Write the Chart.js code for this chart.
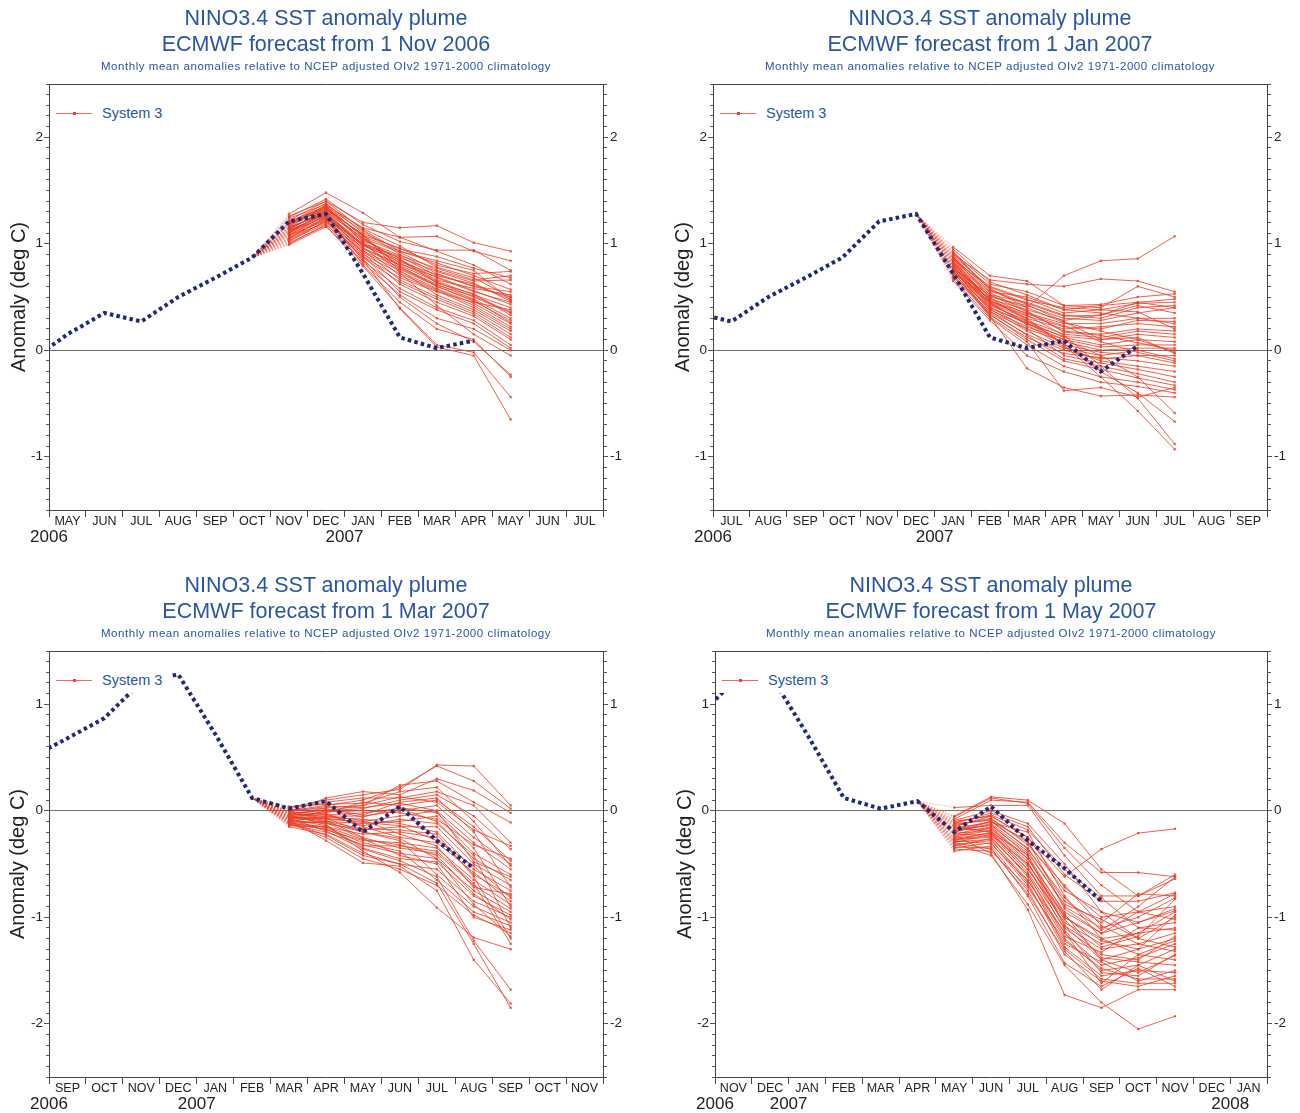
<!DOCTYPE html>
<html>
<head>
<meta charset="utf-8">
<script src="https://cdn.jsdelivr.net/npm/chart.js@4.4.1/dist/chart.umd.min.js"></script>
<style>
  html, body { margin: 0; padding: 0; background: #fff; }
  body { width: 1300px; height: 1113px; position: relative; overflow: hidden;
         font-family: "Liberation Sans", Arial, Helvetica, sans-serif; }
  .panel { position: absolute; }
  .panel canvas { position: absolute; left: 0; top: 0; }
  .ttl { position: absolute; white-space: nowrap; color: #2a55a6; transform: translateX(-50%); }
  .t1 { font-size: 21.5px; line-height: 26px; }
  .t3 { font-size: 11.5px; line-height: 14px; letter-spacing: 0.55px; }
  .lg { position: absolute; background: #fff; }
  .lg .ln { position: absolute; left: 6px; top: 28px; width: 36px; height: 0; border-top: 1px solid rgba(238,66,42,0.8); }
  .lg .mk { position: absolute; left: 23px; top: 27px; width: 3px; height: 3px; background: rgb(238,66,42); }
  .lg .tx { position: absolute; left: 52px; top: 19px; font-size: 14.5px; line-height: 18px; color: #2a55a6; white-space: nowrap; }
</style>
</head>
<body>
<script>
// ---------------- data ----------------
const monthNames = ['JAN','FEB','MAR','APR','MAY','JUN','JUL','AUG','SEP','OCT','NOV','DEC'];
const observedFirst = { year: 2006, month: 3 };          // April 2006 (0-based month)
// Observed NINO3.4 anomaly, Apr 2006 ... Sep 2007
const observed = [-0.10, 0.15, 0.35, 0.27, 0.50, 0.68, 0.87, 1.21, 1.28, 0.72, 0.12, 0.02, 0.09, -0.20, 0.04, -0.28, -0.54, -0.85];

const titleLine1 = 'NINO3.4 SST anomaly plume';
const subTitle = 'Monthly mean anomalies relative to NCEP adjusted OIv2 1971-2000 climatology';
const forecastTitles = ['ECMWF forecast from 1 Nov 2006', 'ECMWF forecast from 1 Jan 2007',
                        'ECMWF forecast from 1 Mar 2007', 'ECMWF forecast from 1 May 2007'];
const legendLabel = 'System 3';
const yAxisLabel = 'Anomaly (deg C)';

const axisStart = [1, 3, 5, 7];          // index in observed[] of first month on x axis
const forecastStart = [7, 9, 11, 13];    // index of first forecast month
const observedEnd = [12, 14, 16, 17];    // last observed month shown
const yRanges = [[-1.5, 2.5], [-1.5, 2.5], [-2.5, 1.5], [-2.5, 1.5]];

// ensemble members, 7 monthly values each
const plumeNov2006 = [
 [1.28,1.48,1.29,1.06,0.93,0.80,0.62],[1.22,1.40,1.20,1.15,1.17,1.01,0.93],[1.18,1.36,1.15,1.06,1.07,0.93,0.84],
 [1.25,1.42,1.18,1.02,0.94,0.94,0.75],[1.20,1.38,1.10,0.95,0.88,0.77,0.68],[1.13,1.33,1.08,0.96,0.80,0.72,0.74],
 [1.10,1.30,1.05,0.92,0.75,0.65,0.66],[1.16,1.35,1.12,0.90,0.72,0.60,0.50],[1.05,1.25,1.00,0.88,0.70,0.62,0.48],
 [1.12,1.28,0.98,0.85,0.68,0.55,0.45],[1.20,1.32,1.05,0.84,0.66,0.58,0.52],[1.08,1.27,1.02,0.82,0.65,0.52,0.40],
 [1.15,1.30,0.95,0.80,0.64,0.50,0.35],[1.02,1.22,0.93,0.78,0.62,0.48,0.30],[1.10,1.26,1.00,0.76,0.60,0.46,0.28],
 [1.18,1.34,1.08,0.74,0.58,0.44,0.25],[1.06,1.20,0.90,0.72,0.57,0.42,0.22],[1.14,1.31,0.97,0.70,0.56,0.40,0.20],
 [1.00,1.18,0.88,0.68,0.55,0.45,0.38],[1.12,1.29,0.99,0.87,0.74,0.63,0.46],[1.24,1.37,1.14,0.98,0.78,0.68,0.50],
 [1.09,1.24,0.96,0.81,0.69,0.56,0.43],[1.17,1.33,1.04,0.86,0.63,0.53,0.33],[1.04,1.21,0.92,0.75,0.52,0.38,0.18],
 [1.11,1.26,0.94,0.66,0.50,0.36,0.15],[1.19,1.36,1.06,0.79,0.60,0.47,0.26],[1.07,1.23,0.87,0.64,0.48,0.34,0.12],
 [1.15,1.29,0.91,0.62,0.45,0.32,0.10],[0.99,1.16,0.84,0.58,0.40,0.28,0.05],[1.13,1.27,0.89,0.55,0.38,0.25,0.02],
 [1.03,1.19,0.82,0.52,0.30,0.20,0.00],[1.21,1.35,1.01,0.73,0.42,0.15,-0.05],[1.08,1.22,0.86,0.50,0.25,0.08,-0.23],
 [1.16,1.28,0.80,0.45,0.20,0.10,-0.25],[1.01,1.17,0.79,0.40,0.05,-0.02,-0.44],[1.12,1.25,0.85,0.39,0.03,-0.05,-0.65],
 [1.26,1.40,1.13,0.93,0.82,0.70,0.57],[1.10,1.31,1.03,0.89,0.77,0.66,0.70],[1.05,1.24,0.99,0.83,0.71,0.60,0.55],
 [1.19,1.34,1.07,0.93,0.84,0.75,0.47],[1.14,1.32,1.09,0.77,0.61,0.51,0.36]
];
const plumeJan2007 = [
 [0.86,0.58,0.40,0.70,0.84,0.86,1.07],[0.90,0.66,0.62,0.60,0.67,0.65,0.55],[0.97,0.70,0.65,0.42,0.43,0.50,0.53],
 [0.92,0.62,0.55,0.42,0.40,0.60,0.50],[0.88,0.55,0.50,0.38,0.42,0.45,0.48],[0.85,0.60,0.48,0.35,0.38,0.44,0.45],
 [0.83,0.52,0.45,0.33,0.30,0.40,0.42],[0.80,0.50,0.42,0.30,0.28,0.35,0.40],[0.78,0.48,0.38,0.28,0.33,0.42,0.35],
 [0.82,0.46,0.35,0.25,0.25,0.30,0.30],[0.76,0.45,0.32,0.22,0.20,0.28,0.27],[0.74,0.44,0.30,0.20,0.22,0.25,0.22],
 [0.87,0.52,0.36,0.18,0.15,0.20,0.18],[0.79,0.42,0.28,0.15,0.12,0.18,0.15],[0.72,0.40,0.25,0.13,0.10,0.15,0.12],
 [0.81,0.43,0.27,0.12,0.05,0.10,0.08],[0.75,0.38,0.22,0.10,0.03,0.05,0.05],[0.70,0.36,0.20,0.08,0.00,0.02,0.02],
 [0.84,0.47,0.30,0.05,-0.02,-0.05,-0.05],[0.77,0.39,0.18,0.02,-0.05,0.00,-0.08],[0.73,0.35,0.15,0.00,-0.08,-0.05,-0.12],
 [0.69,0.33,0.12,-0.03,-0.07,-0.10,-0.15],[0.86,0.45,0.24,0.03,-0.10,-0.15,-0.20],[0.80,0.41,0.20,-0.05,-0.12,-0.18,-0.25],
 [0.76,0.37,0.14,-0.08,-0.15,-0.22,-0.30],[0.71,0.34,0.10,-0.10,-0.18,-0.26,-0.33],[0.67,0.30,0.05,-0.15,-0.25,-0.30,-0.37],
 [0.65,0.28,-0.05,-0.20,-0.30,-0.34,-0.40],[0.78,0.32,-0.17,-0.35,-0.43,-0.42,-0.44],[0.74,0.31,0.08,-0.38,-0.35,-0.44,-0.35],
 [0.82,0.44,0.25,0.10,-0.05,-0.25,-0.59],[0.88,0.49,0.28,0.06,-0.20,-0.40,-0.67],[0.79,0.40,0.26,0.05,-0.25,-0.57,-0.93],
 [0.83,0.46,0.33,0.14,-0.15,-0.45,-0.88],[0.91,0.57,0.44,0.32,0.33,0.45,0.40],[0.95,0.64,0.52,0.38,0.35,0.30,0.25],
 [0.89,0.59,0.47,0.40,0.38,0.36,0.20],[0.77,0.51,0.40,0.26,0.18,0.10,-0.02],[0.72,0.49,0.34,0.23,0.08,-0.02,-0.10],
 [0.85,0.54,0.37,0.17,0.14,0.07,0.00],[0.93,0.56,0.43,0.27,0.10,0.12,-0.03]
];
const plumeMar2007 = [
 [0.03,0.10,0.15,0.20,0.43,0.42,0.05],[0.00,0.05,0.10,0.22,0.42,0.28,0.02],[-0.02,0.12,0.18,0.15,0.30,0.19,-0.02],
 [-0.05,0.03,0.05,0.24,0.28,0.08,-0.11],[0.02,0.08,0.12,0.12,0.18,0.05,-0.30],[-0.08,0.00,0.02,0.10,0.15,-0.05,-0.36],
 [-0.04,-0.02,0.08,0.05,0.10,-0.15,-0.47],[-0.10,-0.05,-0.05,0.00,0.05,-0.25,-0.50],[-0.06,-0.08,-0.10,-0.05,0.00,-0.30,-0.55],
 [-0.12,-0.10,-0.12,-0.10,-0.05,-0.40,-0.60],[-0.03,-0.04,-0.02,0.02,-0.10,-0.45,-0.65],[-0.09,-0.12,-0.18,-0.15,-0.15,-0.50,-0.70],
 [-0.07,-0.06,-0.08,-0.12,-0.20,-0.55,-0.75],[-0.14,-0.15,-0.22,-0.20,-0.25,-0.60,-0.80],[-0.01,-0.03,-0.15,-0.25,-0.30,-0.58,-0.85],
 [-0.11,-0.18,-0.28,-0.30,-0.35,-0.65,-0.88],[-0.05,-0.09,-0.25,-0.35,-0.40,-0.70,-0.92],[-0.13,-0.20,-0.32,-0.40,-0.45,-0.75,-0.95],
 [-0.08,-0.14,-0.35,-0.45,-0.48,-0.80,-0.98],[-0.15,-0.22,-0.40,-0.50,-0.55,-0.85,-1.00],[-0.02,-0.07,-0.20,-0.28,-0.60,-0.90,-1.05],
 [-0.10,-0.16,-0.30,-0.38,-0.65,-0.95,-1.08],[-0.06,-0.11,-0.26,-0.42,-0.50,-1.00,-1.12],[-0.12,-0.25,-0.45,-0.55,-0.70,-0.98,-1.15],
 [-0.04,-0.13,-0.38,-0.58,-0.91,-1.19,-1.30],[-0.09,-0.28,-0.49,-0.52,-0.75,-1.40,-1.81],[-0.07,-0.19,-0.36,-0.47,-0.62,-1.22,-1.68],
 [-0.11,-0.23,-0.42,-0.50,-0.68,-1.25,-1.85],[0.04,0.06,0.07,0.18,0.22,-0.10,-0.52],[0.01,0.02,-0.04,0.08,0.12,-0.20,-0.72],
 [-0.03,0.01,-0.06,0.03,-0.02,-0.35,-0.90],[-0.08,-0.03,-0.14,-0.08,-0.12,-0.42,-1.10],[-0.05,-0.10,-0.17,-0.18,-0.22,-0.62,-1.20],
 [-0.13,-0.17,-0.33,-0.33,-0.38,-0.68,-1.25],[-0.01,0.04,0.03,0.07,0.00,-0.48,-0.62],[-0.06,-0.01,0.00,-0.02,-0.08,-0.32,-0.45],
 [-0.09,-0.07,-0.11,-0.14,-0.28,-0.52,-0.82],[-0.02,0.00,0.05,0.13,0.08,-0.18,-0.33],[-0.12,-0.15,-0.27,-0.32,-0.42,-0.78,-1.02],
 [-0.04,-0.05,-0.09,-0.22,-0.33,-0.72,-0.78],[-0.10,-0.11,-0.20,-0.26,-0.45,-0.88,-1.18]
];
const plumeMay2007 = [
 [-0.10,-0.05,-0.25,-0.62,-0.36,-0.21,-0.17],[-0.05,0.13,0.10,-0.12,-0.55,-0.80,-0.60],[-0.08,0.10,0.08,-0.30,-0.58,-0.58,-0.62],
 [0.03,0.05,0.05,-0.42,-0.80,-0.80,-0.64],[-0.12,-0.02,-0.15,-0.60,-0.85,-0.85,-0.77],[-0.15,-0.05,-0.25,-0.72,-1.00,-0.95,-0.78],
 [-0.18,-0.10,-0.35,-0.85,-1.05,-0.78,-0.80],[-0.20,-0.12,-0.38,-0.90,-1.10,-1.00,-0.82],[-0.13,-0.08,-0.30,-0.75,-0.95,-1.05,-0.92],
 [-0.22,-0.15,-0.45,-0.95,-1.15,-1.05,-0.94],[-0.25,-0.18,-0.50,-1.00,-1.20,-1.15,-0.95],[-0.17,-0.14,-0.40,-0.88,-1.02,-1.20,-1.00],
 [-0.28,-0.20,-0.55,-1.05,-1.25,-1.15,-1.10],[-0.24,-0.16,-0.48,-1.08,-1.30,-1.25,-1.15],[-0.30,-0.22,-0.58,-1.10,-1.35,-1.40,-1.18],
 [-0.19,-0.13,-0.42,-0.97,-1.40,-1.30,-1.20],[-0.27,-0.25,-0.60,-1.15,-1.45,-1.38,-1.25],[-0.32,-0.28,-0.65,-1.20,-1.50,-1.45,-1.30],
 [-0.21,-0.19,-0.52,-1.12,-1.52,-1.55,-1.35],[-0.35,-0.30,-0.70,-1.25,-1.42,-1.60,-1.50],[-0.26,-0.24,-0.62,-1.28,-1.55,-1.50,-1.52],
 [-0.38,-0.33,-0.75,-1.35,-1.60,-1.65,-1.55],[-0.29,-0.27,-0.68,-1.30,-1.58,-1.62,-1.62],[-0.34,-0.35,-0.80,-1.43,-1.65,-1.48,-1.65],
 [-0.23,-0.40,-0.93,-1.73,-1.85,-1.68,-1.68],[-0.31,-0.42,-0.88,-1.45,-1.80,-2.05,-1.93],[-0.16,-0.11,-0.20,-0.80,-1.20,-1.35,-1.40],
 [-0.14,-0.07,-0.32,-0.70,-1.08,-1.25,-1.32],[-0.11,-0.04,-0.18,-0.55,-0.82,-1.10,-1.05],[-0.20,-0.10,-0.28,-0.92,-1.15,-0.95,-0.90],
 [-0.09,0.00,-0.12,-0.50,-0.95,-1.20,-1.28],[-0.33,-0.26,-0.60,-1.18,-1.33,-1.10,-1.12],[-0.26,-0.21,-0.55,-1.02,-1.38,-1.42,-1.45],
 [-0.18,-0.17,-0.45,-1.00,-1.22,-1.30,-0.98],[-0.36,-0.38,-0.72,-1.22,-1.48,-1.58,-1.58],[-0.06,0.12,0.07,-0.35,-0.70,-0.95,-1.02],
 [-0.22,-0.23,-0.50,-0.98,-1.28,-1.18,-0.83],[-0.28,-0.31,-0.66,-1.14,-1.62,-1.35,-1.22],[-0.12,-0.09,-0.36,-0.82,-1.12,-0.90,-0.62],
 [-0.15,-0.20,-0.42,-1.08,-1.40,-1.52,-1.36],[-0.30,-0.36,-0.78,-1.32,-1.68,-1.45,-1.60]
];
const plumes = [plumeNov2006, plumeJan2007, plumeMar2007, plumeMay2007];

// ---------------- layout (positions / sizes only) ----------------
const geom = [
  { left: 0,   top: 0,   w: 650, h: 567, aL: 49, aR: 47, aT: 84, aB: 57, ytPad: 7 },
  { left: 650, top: 0,   w: 650, h: 567, aL: 63, aR: 33, aT: 84, aB: 57, ytPad: 21 },
  { left: 0,   top: 567, w: 650, h: 546, aL: 49, aR: 47, aT: 84, aB: 36, ytPad: 6 },
  { left: 650, top: 567, w: 650, h: 546, aL: 65, aR: 33, aT: 84, aB: 36, ytPad: 23 }
];
const FAM = '"Liberation Sans", Arial, Helvetica, sans-serif';
const RED = 'rgba(236,62,38,0.82)';
const RED_LIGHT = 'rgba(236,62,38,0.45)';
const NAVY = '#1f2a7c';
const AXIS = '#444';
Chart.defaults.font.family = FAM;

const isInt = v => Math.abs(v - Math.round(v)) < 1e-6;

function calOf(k) { // observed index -> calendar
  const c = observedFirst.month + k;
  return { m: ((c % 12) + 12) % 12, y: observedFirst.year + Math.floor(c / 12) };
}

function buildPanel(i) {
  const g = geom[i];
  const first = axisStart[i], fc = forecastStart[i], oe = observedEnd[i];
  const [ymin, ymax] = yRanges[i];
  const toX = k => k - first + 0.5;

  const div = document.createElement('div');
  div.className = 'panel';
  Object.assign(div.style, { left: g.left + 'px', top: g.top + 'px', width: g.w + 'px', height: g.h + 'px' });
  document.body.appendChild(div);

  const cv = document.createElement('canvas');
  cv.width = g.w; cv.height = g.h;
  cv.style.width = g.w + 'px'; cv.style.height = g.h + 'px';
  div.appendChild(cv);

  const cx = g.aL + (g.w - g.aL - g.aR) / 2;
  const t = [[titleLine1, 't1', 5], [forecastTitles[i], 't1', 31], [subTitle, 't3', 59]];
  t.forEach(([txt, cls, top]) => {
    const d = document.createElement('div');
    d.className = 'ttl ' + cls; d.textContent = txt;
    d.style.left = cx + 'px'; d.style.top = top + 'px';
    div.appendChild(d);
  });

  const obsData = observed.slice(0, oe + 1).map((v, k) => ({ x: toX(k), y: v }));
  const memberSets = plumes[i].map(m => ({
    data: [{ x: toX(fc - 1), y: observed[fc - 1] }].concat(m.map((v, k) => ({ x: toX(fc + k), y: v }))),
    borderColor: RED, borderWidth: 1,
    pointRadius: ctx => ctx.dataIndex === 0 ? 0 : 1.6,
    pointStyle: 'rect', pointBackgroundColor: RED, pointBorderWidth: 0,
    segment: {
      borderDash: ctx => ctx.p0DataIndex === 0 ? [1.5, 1.5] : undefined,
      borderColor: ctx => ctx.p0DataIndex === 0 ? RED_LIGHT : undefined
    },
    order: 1, clip: 0
  }));
  const obsSet = {
    data: obsData, borderColor: NAVY, borderWidth: 4, borderDash: [3.5, 3.2],
    pointRadius: 0, order: 0, clip: 0
  };

  const yTicks = s => {
    const arr = [];
    for (let k = Math.round(ymin * 10); k <= Math.round(ymax * 10); k++) arr.push({ value: k / 10 });
    s.ticks = arr;
  };
  const yLabel = v => isInt(v) ? String(Math.round(v)) : '';

  new Chart(cv, {
    type: 'line',
    data: { datasets: [obsSet].concat(memberSets) },
    options: {
      responsive: false, maintainAspectRatio: false, animation: false, devicePixelRatio: 1,
      events: [],
      layout: { padding: { top: g.aT, left: 0, right: 0, bottom: 0 } },
      plugins: { legend: { display: false }, tooltip: { enabled: false }, title: { display: false } },
      scales: {
        x: {
          type: 'linear', position: 'bottom', min: 0, max: 15,
          afterBuildTicks: s => { const a = []; for (let k = 0; k <= 30; k++) a.push({ value: k / 2 }); s.ticks = a; },
          afterFit: s => { s.height = g.aB; },
          ticks: {
            autoSkip: false, maxRotation: 0, minRotation: 0, padding: -3, color: '#222',
            font: ctx => (ctx.tick && isInt(ctx.tick.value)) ? { size: 17, lineHeight: 0.9, family: FAM } : { size: 12.5, family: FAM },
            callback: v => {
              if (isInt(v)) {
                const r = Math.round(v);
                const c = calOf(first + r);
                return (r === 0 || c.m === 0) ? ['', String(c.y)] : '';
              }
              return monthNames[calOf(first + Math.floor(v)).m];
            }
          },
          grid: { drawOnChartArea: false, tickLength: 7,
                  tickColor: ctx => (ctx.tick && isInt(ctx.tick.value)) ? AXIS : 'rgba(0,0,0,0)' },
          border: { display: true, color: AXIS, width: 1 }
        },
        xTop: {
          type: 'linear', position: 'top', min: 0, max: 15,
          afterFit: s => { s.height = 0; },
          ticks: { display: false },
          grid: { drawOnChartArea: false, drawTicks: false },
          border: { display: true, color: AXIS, width: 1 }
        },
        y: {
          type: 'linear', position: 'left', min: ymin, max: ymax,
          afterBuildTicks: yTicks,
          afterFit: s => { s.width = g.aL; },
          ticks: { autoSkip: false, callback: yLabel, font: { size: 13.5, family: FAM }, color: '#222', padding: 1 },
          grid: {
            drawOnChartArea: true, tickLength: 5,
            color: ctx => (ctx.tick && Math.abs(ctx.tick.value) < 1e-9) ? '#707070' : 'rgba(0,0,0,0)',
            tickColor: '#555',
            tickBorderDash: ctx => (ctx.tick && isInt(ctx.tick.value)) ? [] : [0, 2, 3, 20]
          },
          border: { display: true, color: AXIS, width: 1 },
          title: { display: true, text: yAxisLabel, color: '#222', font: { size: 20, family: FAM },
                   padding: { top: g.ytPad, bottom: 0 } }
        },
        yR: {
          type: 'linear', position: 'right', min: ymin, max: ymax,
          afterBuildTicks: yTicks,
          afterFit: s => { s.width = g.aR; },
          ticks: { autoSkip: false, callback: yLabel, font: { size: 13.5, family: FAM }, color: '#222', padding: 2 },
          grid: {
            drawOnChartArea: false, tickLength: 5, tickColor: '#555',
            tickBorderDash: ctx => (ctx.tick && isInt(ctx.tick.value)) ? [] : [3, 20]
          },
          border: { display: true, color: AXIS, width: 1 }
        }
      }
    }
  });

  // legend box (white, drawn over the plot like the original)
  const lg = document.createElement('div');
  lg.className = 'lg';
  Object.assign(lg.style, { left: (g.aL + 1) + 'px', top: (g.aT + 1) + 'px', width: '121px', height: '41px' });
  lg.innerHTML = '<div class="ln"></div><div class="mk"></div>';
  const tx = document.createElement('div'); tx.className = 'tx'; tx.textContent = legendLabel;
  lg.appendChild(tx);
  div.appendChild(lg);
}

for (let i = 0; i < 4; i++) buildPanel(i);
</script>
</body>
</html>
